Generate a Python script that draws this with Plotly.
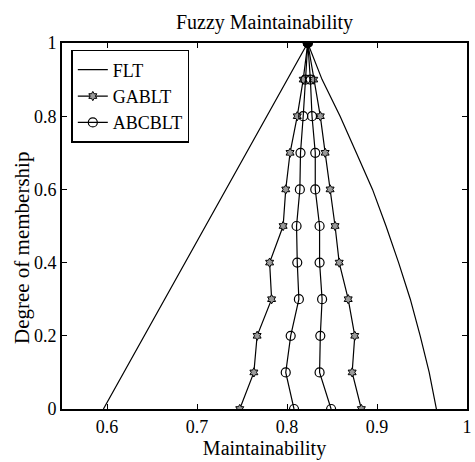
import plotly.graph_objects as go

# membership levels
mu = [0, 0.1, 0.2, 0.3, 0.4, 0.5, 0.6, 0.7, 0.8, 0.9, 1.0]

# FLT (left branch straight, right branch, from mu=1 down to 0)
flt_left_x = [0.596]
flt_left_y = [0]
flt_right_x = [0.823, 0.839, 0.859, 0.877, 0.895, 0.910, 0.924, 0.937, 0.948, 0.958, 0.966]

# GABLT left/right bounds at mu = 0..1
gablt_left = [0.7475, 0.7632, 0.7668, 0.7829, 0.7807, 0.7957, 0.7986, 0.8034, 0.8114, 0.8180, 0.8231]
gablt_right = [0.8826, 0.8724, 0.8753, 0.8680, 0.8580, 0.8534, 0.8479, 0.8424, 0.8370, 0.8297, 0.8231]

# ABCBLT left/right bounds at mu = 0..1
abcblt_left = [0.8078, 0.7986, 0.8041, 0.8132, 0.8114, 0.8106, 0.8143, 0.8150, 0.8180, 0.8205, 0.8231]
abcblt_right = [0.8490, 0.8362, 0.8370, 0.8390, 0.8362, 0.8362, 0.8314, 0.8314, 0.8278, 0.8260, 0.8231]

x_ticks = [0.6, 0.7, 0.8, 0.9, 1.0]
x_tick_labels = ["0.6", "0.7", "0.8", "0.9", "1"]
y_ticks = [0, 0.2, 0.4, 0.6, 0.8, 1.0]
y_tick_labels = ["0", "0.2", "0.4", "0.6", "0.8", "1"]

mu_desc = mu[::-1]

fig = go.Figure()
fig.add_trace(go.Scatter(
    x=flt_left_x + flt_right_x,
    y=flt_left_y + mu_desc,
    mode="lines", name="FLT",
    line=dict(color="black", width=1.2),
))
fig.add_trace(go.Scatter(
    x=gablt_left + gablt_right[::-1],
    y=mu + mu_desc,
    mode="lines+markers", name="GABLT",
    line=dict(color="black", width=1.2),
    marker=dict(symbol="hexagram", size=7, color="#9a9a9a",
                line=dict(color="black", width=1)),
))
fig.add_trace(go.Scatter(
    x=abcblt_left + abcblt_right[::-1],
    y=mu + mu_desc,
    mode="lines+markers", name="ABCBLT",
    line=dict(color="black", width=1.2),
    marker=dict(symbol="circle-open", size=9, color="black",
                line=dict(color="black", width=1.2)),
))
# peak
fig.add_trace(go.Scatter(
    x=[gablt_left[-1]], y=[mu[-1]], mode="markers", showlegend=False,
    marker=dict(symbol="circle", size=9, color="black"),
))

font_family = "Liberation Serif, Times New Roman, serif"

fig.update_layout(
    width=475, height=462,
    margin=dict(l=62, r=3, t=43, b=53),
    paper_bgcolor="white", plot_bgcolor="white",
    font=dict(family=font_family, color="black", size=18),
    title=dict(text="Fuzzy Maintainability", x=0.5, xref="paper", xanchor="center",
               y=1, yref="paper", yanchor="bottom", pad=dict(b=14),
               font=dict(size=20, family=font_family, color="black")),
    showlegend=True,
    legend=dict(x=0.023, y=0.981, xanchor="left", yanchor="top",
                bgcolor="white", bordercolor="black", borderwidth=1.5,
                font=dict(size=18, family=font_family, color="black"),
                tracegroupgap=0, itemwidth=30),
    xaxis=dict(range=[0.55, 1.0], tickvals=x_ticks, ticktext=x_tick_labels,
               ticks="inside", ticklen=5, tickwidth=1, tickcolor="black",
               showline=True, linewidth=2, linecolor="black", mirror="ticks",
               showgrid=False, zeroline=False,
               tickfont=dict(size=18),
               title=dict(text="Maintainability", standoff=2, font=dict(size=20))),
    yaxis=dict(range=[0, 1.0], tickvals=y_ticks, ticktext=y_tick_labels,
               ticks="inside", ticklen=5, tickwidth=1, tickcolor="black",
               showline=True, linewidth=2, linecolor="black", mirror="ticks",
               showgrid=False, zeroline=False,
               tickfont=dict(size=18)),
    annotations=[dict(text="Degree of membership", textangle=-90,
                      xref="paper", yref="paper", x=0, y=0.5,
                      xanchor="right", yanchor="middle", xshift=-26, yshift=-22,
                      showarrow=False, font=dict(size=21, family=font_family, color="black"))],
)

fig.write_html("out.html")
